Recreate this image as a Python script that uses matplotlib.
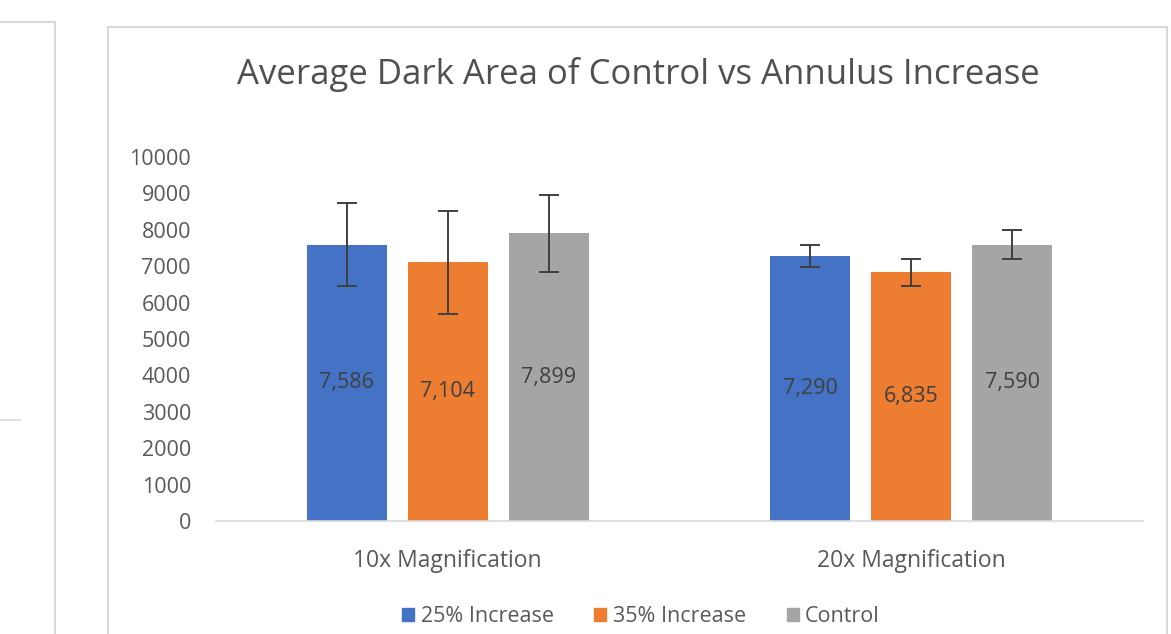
import matplotlib
matplotlib.use("Agg")
import matplotlib.pyplot as plt
from matplotlib.patches import Rectangle
from matplotlib.lines import Line2D
import numpy as np

categories = ["10x Magnification", "20x Magnification"]
series_names = ["25% Increase", "35% Increase", "Control"]
values_25 = [7586, 7290]
values_35 = [7104, 6835]
values_ctrl = [7899, 7590]
err_25 = [1140, 300]
err_35 = [1410, 370]
err_ctrl = [1060, 400]
yticks = [0, 1000, 2000, 3000, 4000, 5000, 6000, 7000, 8000, 9000, 10000]
title = "Average Dark Area of Control vs Annulus Increase"

colors = ["#4472C4", "#ED7D31", "#A5A5A5"]
W, H = 1171, 634
plt.rcParams['font.family'] = ['Open Sans', 'DejaVu Sans']
fig = plt.figure(figsize=(W / 100, H / 100), dpi=100)
fig.patch.set_facecolor("white")

def fx(px):
    return px / W

def fy(py):
    return 1 - py / H

# chart frame
fig.patches.append(Rectangle((fx(108), fy(640)), fx(1167) - fx(108), fy(27) - fy(640),
                             transform=fig.transFigure, fill=False, edgecolor="#d9d9d9", lw=1.5))
# neighbouring partial frame
fig.lines.append(Line2D([fx(-5), fx(55)], [fy(22), fy(22)], transform=fig.transFigure, color="#d9d9d9", lw=1.5))
fig.lines.append(Line2D([fx(55), fx(55)], [fy(22), fy(640)], transform=fig.transFigure, color="#d9d9d9", lw=1.5))
fig.lines.append(Line2D([fx(0), fx(20)], [fy(420), fy(420)], transform=fig.transFigure, color="#d9d9d9", lw=1.2))

ax = fig.add_axes([fx(216), fy(521), fx(1143) - fx(216), fy(157) - fy(521)])
x = np.arange(len(categories))
bw = 0.173
step = 0.218
all_vals = [values_25, values_35, values_ctrl]
all_errs = [err_25, err_35, err_ctrl]
for i, (name, vals, errs) in enumerate(zip(series_names, all_vals, all_errs)):
    bars = ax.bar(x + (i - 1) * step, vals, bw, color=colors[i], label=name,
                  yerr=errs, error_kw=dict(ecolor="#404040", elinewidth=1.4, capsize=7, capthick=1.4))
    ax.bar_label(bars, labels=[f"{v:,}" for v in vals], label_type="center",
                 fontsize=15.5, color="#404040")

ax.set_xlim(-0.5, 1.5)
ax.set_ylim(0, 10000)
ax.set_yticks(yticks)
ax.set_yticklabels([str(t) for t in yticks])
ax.set_xticks(x)
ax.set_xticklabels(categories)
ax.tick_params(axis="y", length=0, pad=18, labelsize=15.5, labelcolor="#595959")
ax.tick_params(axis="x", length=0, pad=20, labelsize=16.5, labelcolor="#595959")
for s in ["top", "right", "left"]:
    ax.spines[s].set_visible(False)
ax.spines["bottom"].set_color("#d9d9d9")
ax.spines["bottom"].set_linewidth(1.2)
ax.set_facecolor("none")

fig.text(fx(638), fy(75), title, ha="center", va="center", fontsize=25, color="#505050")

handles = [Rectangle((0, 0), 1, 1, color=c) for c in colors]
fig.legend(handles, series_names, loc="center", bbox_to_anchor=(fx(641), fy(617)), ncol=3,
           frameon=False, fontsize=15.5, labelcolor="#595959", handlelength=0.55, handleheight=0.55,
           handletextpad=0.3, columnspacing=1.9)

fig.savefig("out.png", dpi=100, facecolor="white")
